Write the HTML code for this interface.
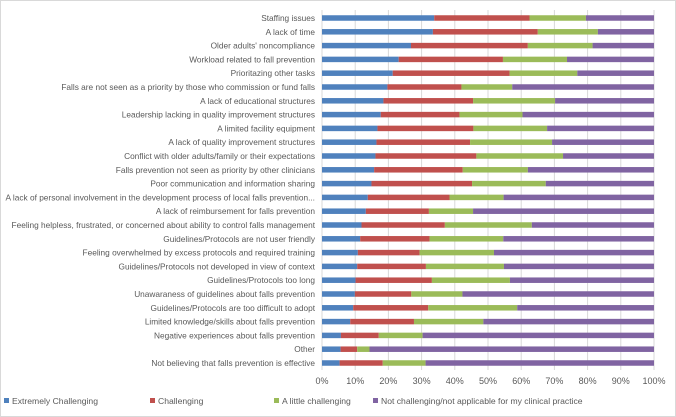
<!DOCTYPE html>
<html><head><meta charset="utf-8"><style>
body{margin:0;background:#fff;font-family:"Liberation Sans",sans-serif}
#wrap{position:relative;width:676px;height:417px;overflow:hidden}
svg text{font-family:"Liberation Sans",sans-serif;fill:#595959}
</style></head><body>
<div id="wrap">
<svg id="c" width="676" height="417">
<rect x="0.5" y="0.5" width="675" height="416" fill="#fff" stroke="#d9d9d9"/>
</svg>
</div>
<script>
const categories=["Staffing issues","A lack of time","Older adults' noncompliance","Workload related to fall prevention","Prioritazing other tasks","Falls are not seen as a priority by those who commission or fund falls","A lack of educational structures","Leadership lacking in quality improvement structures","A limited facility equipment","A lack of quality improvement structures","Conflict with older adults/family or their expectations","Falls prevention not seen as priority by other clinicians","Poor communication and information sharing","A lack of personal involvement in the development process of local falls prevention...","A lack of reimbursement for falls prevention","Feeling helpless, frustrated, or concerned about ability to control falls management","Guidelines/Protocols are not user friendly","Feeling overwhelmed by excess protocols and required training","Guidelines/Protocols not developed in view of context","Guidelines/Protocols too long","Unawaraness of guidelines about falls prevention","Guidelines/Protocols are too difficult to adopt","Limited knowledge/skills about falls prevention","Negative experiences about falls prevention","Other","Not believing that falls prevention is effective"];
const extremely=[33.8,33.4,26.8,23.1,21.3,19.7,18.5,17.7,16.7,16.4,16.1,15.7,14.9,13.8,13.2,11.9,11.5,10.8,10.6,10.1,9.9,9.4,8.5,5.7,5.6,5.3];
const challenging=[28.7,31.6,35.2,31.4,35.2,22.3,27.0,23.7,28.9,28.2,30.4,26.7,30.3,24.6,19.0,25.1,20.9,18.6,20.7,23.0,17.0,22.6,19.2,11.4,5.0,13.0];
const little=[17.0,18.1,19.5,19.3,20.4,15.3,24.7,19.0,22.2,24.7,26.1,19.6,22.2,16.3,13.3,26.2,22.2,22.4,23.5,23.5,15.4,26.8,20.9,13.2,3.7,12.9];
const ticks=["0%","10%","20%","30%","40%","50%","60%","70%","80%","90%","100%"];
const seriesNames=["Extremely Challenging","Challenging","A little challenging","Not challenging/not applicable for my clinical practice"];
const colors=["#4F81BD","#C0504D","#9BBB59","#8064A2"];
const svg=document.getElementById('c');const NS="http://www.w3.org/2000/svg";
const x0=322,x1=654,yTop=18,step=13.8,bh=5.5;
const xs=v=>x0+(x1-x0)*v/100;
const ys=i=>yTop+i*step;
function mk(t,a){const e=document.createElementNS(NS,t);for(const k in a)e.setAttribute(k,a[k]);svg.appendChild(e);return e;}
ticks.forEach((t,i)=>{const x=xs(i*10);
const g=mk('line',{x1:x,x2:x,y1:10,y2:370,stroke:'#d9d9d9','stroke-width':1});

const tx=mk('text',{x:x,y:384,'font-size':9,'text-anchor':'middle'});tx.textContent=t;
});
categories.forEach((c,i)=>{const y=ys(i);
const l=mk('text',{x:315,y:y+3,'font-size':8.3,'text-anchor':'end'});l.textContent=c;

const vals=[extremely[i],challenging[i],little[i],100-extremely[i]-challenging[i]-little[i]];
let cum=0;vals.forEach((v,s)=>{const r=mk('rect',{x:xs(cum),y:y-bh/2,width:xs(cum+v)-xs(cum),height:bh,fill:colors[s]});
cum+=v;});});
const lx=[4,150,274,373];
seriesNames.forEach((n,i)=>{const r=mk('rect',{x:lx[i],y:398,width:5,height:5,fill:colors[i]});

const t=mk('text',{x:lx[i]+8,y:404,'font-size':8.6});t.textContent=n;
});
</script>
</body></html>
